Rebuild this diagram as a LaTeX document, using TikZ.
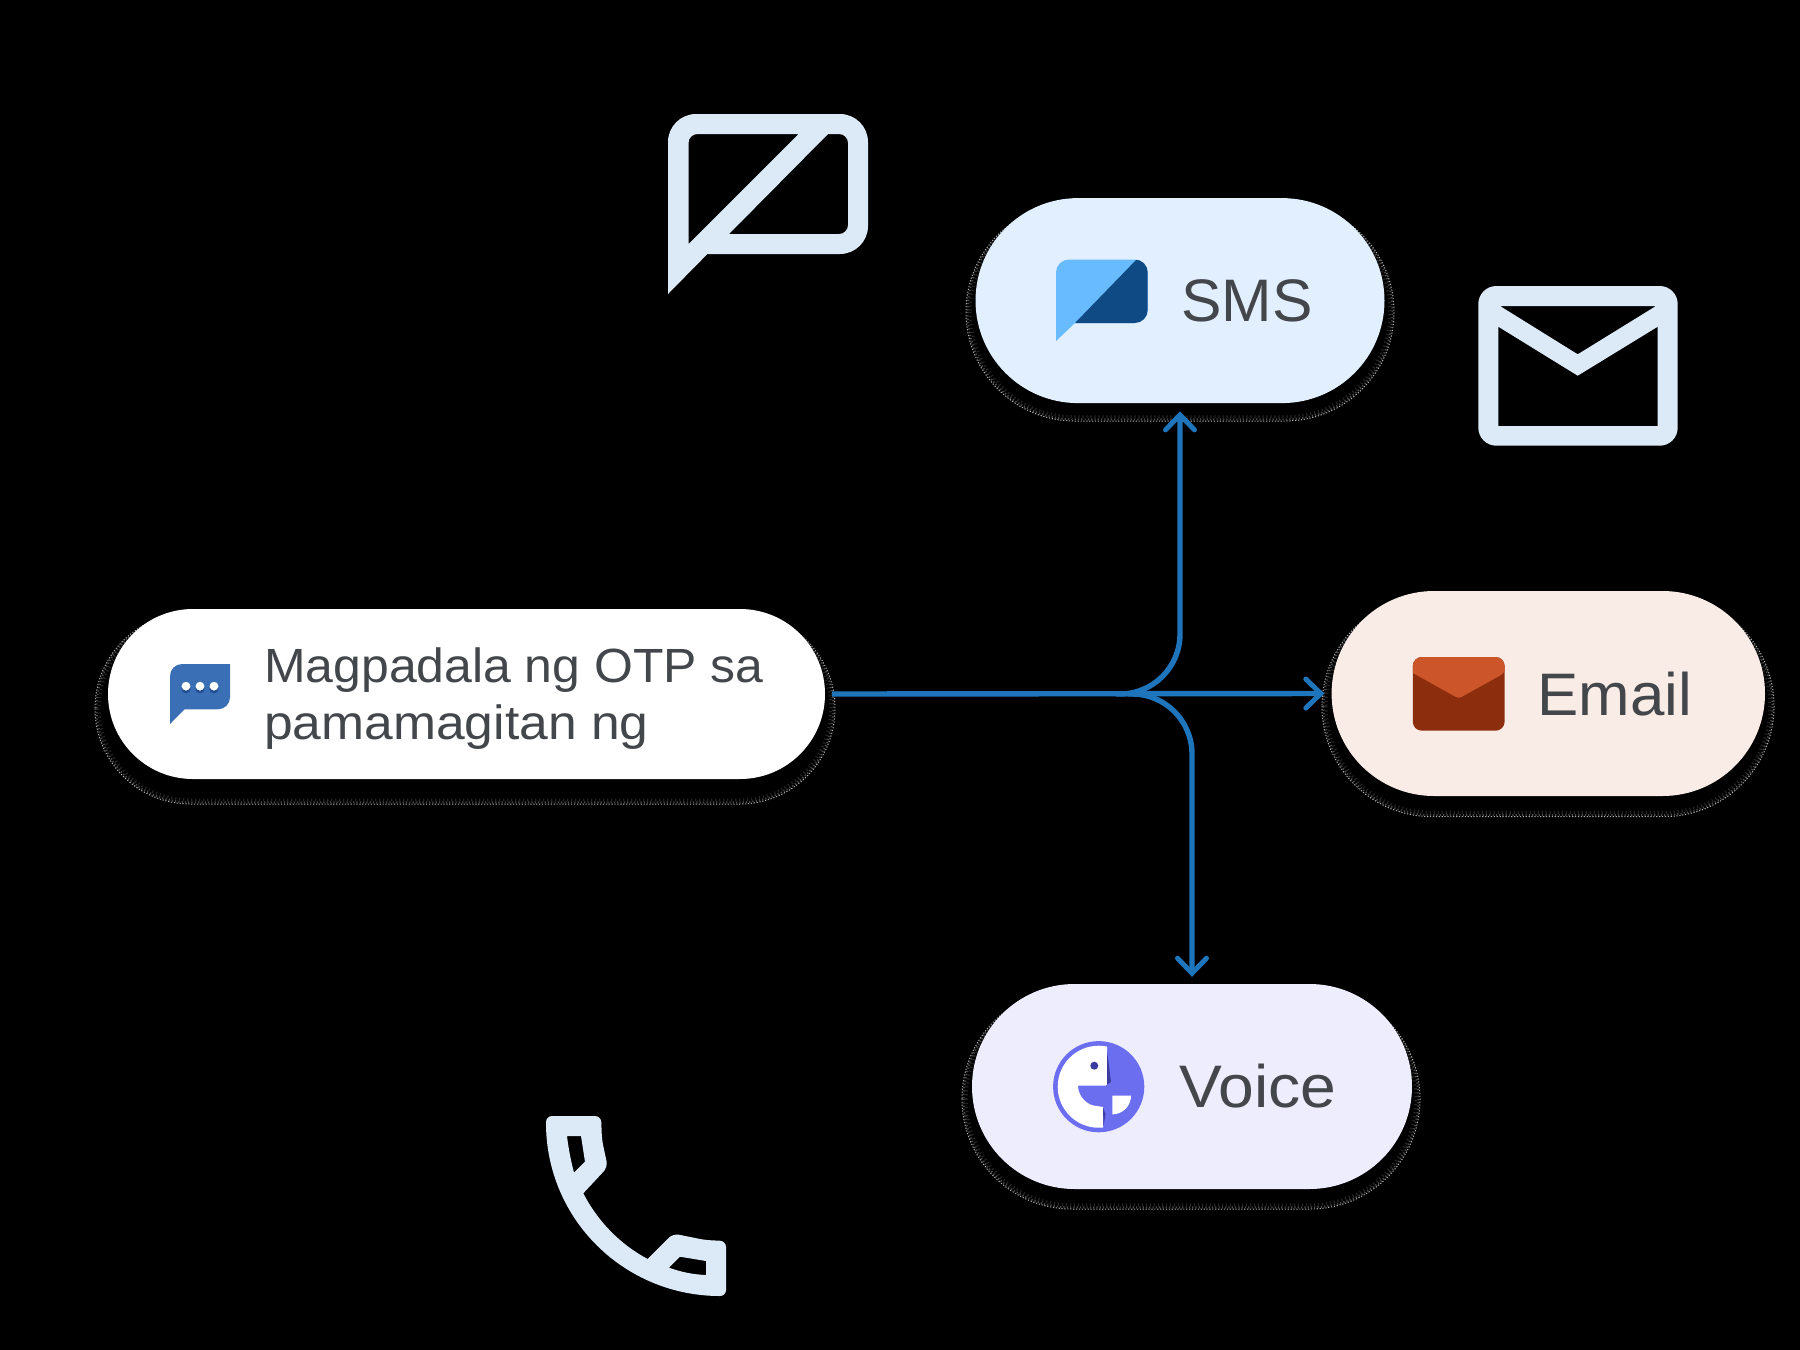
\documentclass[tikz,border=0pt]{standalone}
\usepackage{fontspec}
\setmainfont{Liberation Sans}
\usetikzlibrary{arrows.meta,shapes.misc}
\definecolor{ghost}{HTML}{DCE9F6}
\definecolor{flow}{HTML}{1F75BC}
\definecolor{ink}{HTML}{43464A}
\definecolor{smsbg}{HTML}{E1EFFE}
\definecolor{mailbg}{HTML}{F9EBE6}
\definecolor{voicebg}{HTML}{EEEDFD}
\definecolor{smslight}{HTML}{68BBFF}
\definecolor{smsdark}{HTML}{0F4A85}
\definecolor{mailflap}{HTML}{CC5529}
\definecolor{maildark}{HTML}{8C2E0E}
\definecolor{purple1}{HTML}{6B6EEF}
\definecolor{purple2}{HTML}{3C3CA0}
\definecolor{chatblue}{HTML}{3A6FB5}
\definecolor{chatdark}{HTML}{1E4C8F}
\tikzset{
  pill/.style={rounded rectangle,rounded rectangle arc length=180,inner sep=0pt,draw=none},
  label big/.style={inner sep=0pt,text=ink,font=\fontsize{60}{72}\selectfont,anchor=base west},
  label small/.style={inner sep=0pt,text=ink,font=\fontsize{48}{57}\selectfont,align=left,anchor=west},
  link/.style={draw=flow,line width=5.4pt,-{Straight Barb[length=15pt,width=29pt,line cap=round,line width=5pt]}},
}
% centre x, centre y, width, height
\newcommand{\softedge}[4]{%
  \draw[white!70!black,line width=1pt,dash pattern=on 1.2pt off 1.7pt,rounded corners=#4/2-0.1] (#1-#3/2,#2-#4/2) rectangle (#1+#3/2,#2+#4/2);
  \draw[white!30!black,line width=2pt,dash pattern=on 1.2pt off 2.1pt,rounded corners=#4/2-1.6] (#1-#3/2+1.6,#2-#4/2+1.6) rectangle (#1+#3/2-1.6,#2+#4/2-1.6);
  \draw[white!14!black,line width=3pt,dash pattern=on 1.2pt off 2.8pt,rounded corners=#4/2-4.2] (#1-#3/2+4.2,#2-#4/2+4.2) rectangle (#1+#3/2-4.2,#2+#4/2-4.2);
}
\begin{document}
\begin{tikzpicture}[x=1pt,y=-1pt]
\useasboundingbox (0,0) rectangle (1800,1350);
\fill[black] (0,0) rectangle (1800,1350);

% faint background glyphs
\fill[ghost,even odd rule]
  (668,294) [rounded corners=28pt] -- (668,114) -- (868,114) -- (868,254) [sharp corners] -- (707.4,254) -- cycle
  (688.5,244) [rounded corners=9pt] -- (688.5,134) [sharp corners] -- (798.5,134) -- cycle
  (828,134) [rounded corners=9pt] -- (848,134) -- (848,234) [sharp corners] -- (729,234) -- cycle;
\fill[ghost,even odd rule]
  [rounded corners=18pt] (1478.3,286) rectangle (1677.7,445.7) [sharp corners]
  (1500,306) -- (1577.7,354.3) -- (1656,306) -- cycle
  (1498.3,326.7) -- (1577.7,375.7) -- (1657.7,326.7) -- (1657.7,426) -- (1498.3,426) -- cycle;
\fill[ghost,even odd rule]
  (546,1123) [rounded corners=6pt] -- (546,1116) -- (601,1116) -- (602,1140) -- (607.8,1167) [sharp corners] -- (583.3,1193.3)
  .. controls (597.7,1221.2) and (620,1244.3) .. (647.7,1259)
  [rounded corners=6pt] -- (673,1233.5) -- (705,1240) -- (726,1241) -- (726,1296) [sharp corners]
  -- (720,1296) .. controls (624,1296) and (546,1219) .. (546,1123) -- cycle
  (567,1136) -- (581,1136) -- (585,1161.7) -- (574,1172.7) .. controls (571,1161) and (568.5,1149) .. (567,1136) -- cycle
  (680,1256.7) -- (706,1261) -- (706,1275) .. controls (693,1274.5) and (681,1272) .. (669,1267.7) -- cycle;

% soft shadow edges
\softedge{465}{708.5}{740}{191}
\softedge{1180}{312}{428}{218}
\softedge{1548}{706.3}{452}{220.7}
\softedge{1191}{1099}{458}{220}

% pills
\node[pill,fill=white,minimum width=717pt,minimum height=170pt] (main) at (466.5,694) {};
\node[pill,fill=smsbg,minimum width=409pt,minimum height=205pt] (sms) at (1180,300.6) {};
\node[pill,fill=mailbg,minimum width=433.4pt,minimum height=205pt] (mail) at (1548.3,693.5) {};
\node[pill,fill=voicebg,minimum width=440pt,minimum height=205pt] (voice) at (1192,1086.5) {};

% labels
\node[label small] (maintext) at (264,698.7) {\addfontfeature{FakeStretch=1.04}Magpadala ng OTP sa\\\addfontfeature{FakeStretch=1.075}pamamagitan ng};
\node[label big] (smstext) at (1181,321) {\addfontfeature{FakeStretch=1.01}SMS};
\node[label big] (mailtext) at (1537.5,715) {\addfontfeature{FakeStretch=1.03}Email};
\node[label big] (voicetext) at (1179,1107.5) {\addfontfeature{FakeStretch=1.07}Voice};

% connectors
\coordinate (forkup) at (1116,694);
\coordinate (forkdown) at (1128,694);
\draw[link,shorten <=7pt,shorten >=7pt] (main.east) -- (mail.west);
\draw[link,rounded corners=60pt,shorten >=8pt] (forkup) -| (sms.south);
\draw[link,rounded corners=60pt,shorten >=7pt] (forkdown) -| (voice.north);

% SMS icon
\fill[smslight] (1056,341) [rounded corners=13pt] -- (1056,259.5) -- (1147.7,259.5) -- (1147.7,323) [sharp corners] -- (1075,323) -- cycle;
\begin{scope}
  \clip (1075,323) -- (1137,259) -- (1150,259) -- (1150,325) -- (1075,325) -- cycle;
  \fill[smsdark] (1056,341) [rounded corners=13pt] -- (1056,259.5) -- (1147.7,259.5) -- (1147.7,323) [sharp corners] -- (1075,323) -- cycle;
\end{scope}

% chat icon
\fill[chatblue] (170,724) [rounded corners=12pt] -- (170,664) [sharp corners] -- (230,664) [rounded corners=12pt] -- (230,709.3) [sharp corners] -- (184.6,709.3) -- cycle;
\foreach \dx in {186,200,214} {
  \fill[chatdark] (\dx,688.7) circle (4.6pt);
  \fill[white] (\dx,686.2) circle (4.4pt);
}

% mail icon
\fill[maildark,rounded corners=9pt] (1412.8,657) rectangle (1504.6,730.7);
\fill[mailflap] (1412.8,671.7) [rounded corners=9pt] -- (1412.8,657) -- (1504.6,657) [sharp corners] -- (1504.6,671.7)
  [rounded corners=4pt] -- (1504.6,673) [rounded corners=3pt] -- (1458.7,698.5) [sharp corners] -- (1412.8,673) -- cycle;

% voice icon
\fill[purple1] (1098.7,1086.7) circle (45.6pt);
\begin{scope}
  \clip (1098.7,1086.7) circle (41pt);
  \fill[white] (1050,1040) -- (1107.2,1040) -- (1107.2,1085.7) -- (1078,1085.7)
    .. controls (1078,1097) and (1088,1106) .. (1097,1106) -- (1103,1107) -- (1103,1135) -- (1050,1135) -- cycle;
  \fill[purple2] (1107.2,1052) -- (1111,1082) -- (1105.5,1085.7) -- (1107.2,1085.7) -- cycle;
  \fill[purple2] (1103,1107.5) -- (1105.5,1114) -- (1103.5,1126) -- cycle;
\end{scope}
\fill[purple2] (1094.3,1065.7) circle (4pt);
\fill[white] (1112.3,1095.7) -- (1131,1095.7) .. controls (1131,1106) and (1122.6,1114.4) .. (1112.3,1114.4) -- cycle;
\end{tikzpicture}
\end{document}
